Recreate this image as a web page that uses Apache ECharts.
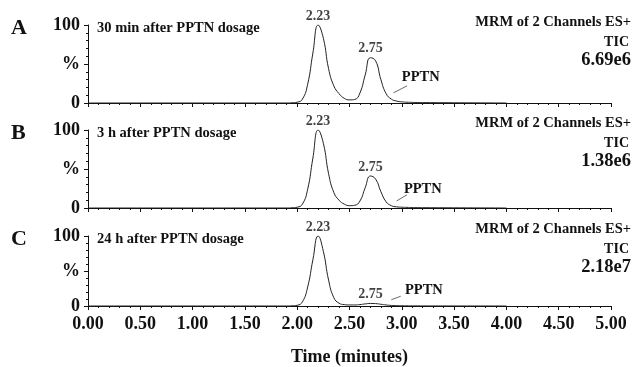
<!DOCTYPE html>
<html>
<head>
<meta charset="utf-8">
<script src="https://cdn.jsdelivr.net/npm/echarts@6/dist/echarts.min.js"></script>
<style>
  html, body { margin: 0; padding: 0; background: #fff; }
  #chart { width: 633px; height: 367px; }
</style>
</head>
<body>
<div id="chart"></div>
<script>
// retention time (min) and relative abundance (%)
const timeMin = [0, 1.9, 1.95, 2.0, 2.05, 2.1, 2.15, 2.2, 2.25, 2.3, 2.35, 2.4, 2.45, 2.5, 2.55, 2.6, 2.65, 2.7, 2.75, 2.8, 2.85, 2.9, 2.95, 3.0, 3.05, 3.1, 3.15, 3.2, 4.0];
const pctA = [0, 0, 0.3, 1, 5, 24, 64, 100, 83, 44, 22, 12, 6, 4, 4.5, 13, 36, 58, 54, 30, 12, 5, 2.5, 1.5, 1, 0.8, 0.6, 0.5, 0];
const pctB = [0, 0, 0.3, 1, 5, 24, 64, 100, 83, 44, 20, 10, 5, 3, 3.5, 9, 26, 41, 37, 21, 8, 3, 1.5, 1, 0.8, 0.6, 0.5, 0.4, 0];
const pctC = [0, 0, 0.3, 1, 6, 27, 66, 100, 78, 37, 12, 4, 2, 1.5, 1.5, 2, 3, 3.6, 3.4, 2.5, 1.5, 0.8, 0.5, 0.4, 0.3, 0.2, 0.2, 0.1, 0];

const peakIndex = [7, 17];
const peakText = ['2.23', '2.75'];

const panelLetters = ['A', 'B', 'C'];
const panelNotes = ['30 min after PPTN dosage', '3 h after PPTN dosage', '24 h after PPTN dosage'];
const ticIntensity = ['6.69e6', '1.38e6', '2.18e7'];

const serif = "'Liberation Serif', 'Times New Roman', serif";
const ink = '#111';

const panels = [pctA, pctB, pctC];
const gridTops = [25, 130, 236];
const gridHeights = [78, 78, 77];
// PPTN leader line and text anchor per panel, in data units
const pptnLine = [
  [[2.92, 13], [3.05, 22]],
  [[2.95, 9], [3.05, 17]],
  [[2.9, 9], [2.99, 14]]
];
const pptnText = [[3.0, 33], [3.02, 24], [3.03, 22]];

const grid = [], xAxis = [], yAxis = [], series = [], graphic = [];

panels.forEach((vals, i) => {
  grid.push({ left: 88, right: 22, top: gridTops[i], height: gridHeights[i] });
  const last = i === panels.length - 1;
  xAxis.push({
    type: 'value', gridIndex: i, min: 0, max: 5, interval: 0.5,
    axisLine: { onZero: false, lineStyle: { color: ink, width: 1 } },
    axisTick: { show: true, length: 4, lineStyle: { color: ink } },
    minorTick: { show: true, splitNumber: 5, length: 2, lineStyle: { color: ink } },
    splitLine: { show: false },
    axisLabel: {
      show: last, margin: 9, color: ink, fontFamily: serif, fontWeight: 'bold', fontSize: 18,
      formatter: v => v.toFixed(2)
    },
    name: last ? 'Time (minutes)' : '',
    nameLocation: 'middle', nameGap: 42,
    nameTextStyle: { color: ink, fontFamily: serif, fontWeight: 'bold', fontSize: 18 }
  });
  yAxis.push({
    type: 'value', gridIndex: i, min: 0, max: 100, interval: 50,
    axisLine: { show: true, lineStyle: { color: ink, width: 1 } },
    axisTick: { show: true, length: 4, lineStyle: { color: ink } },
    minorTick: { show: true, splitNumber: 5, length: 2, lineStyle: { color: ink } },
    splitLine: { show: false },
    axisLabel: {
      margin: 8, color: ink, fontFamily: serif, fontWeight: 'bold', fontSize: 18,
      formatter: v => (v === 50 ? '%' : String(v))
    }
  });
  series.push({
    type: 'line', xAxisIndex: i, yAxisIndex: i,
    data: timeMin.map((t, k) => [t, vals[k]]),
    smooth: 0.5, showSymbol: false, silent: true,
    lineStyle: { color: '#222', width: 1 },
    markLine: {
      symbol: 'none', silent: true, label: { show: false },
      lineStyle: { color: '#444', width: 0.8, type: 'solid' },
      data: [[{ coord: pptnLine[i][0] }, { coord: pptnLine[i][1] }]]
    },
    markPoint: {
      symbol: 'circle', symbolSize: 0, silent: true,
      label: {
        show: true, position: 'right', distance: 0, formatter: 'PPTN',
        color: ink, fontFamily: serif, fontWeight: 'bold', fontSize: 14.5
      },
      data: [{ coord: pptnText[i] }]
    }
  });
  series.push({
    type: 'scatter', xAxisIndex: i, yAxisIndex: i, symbolSize: 0, silent: true,
    data: peakIndex.map((k, j) => [timeMin[k], vals[k], peakText[j]]),
    label: {
      show: true, position: 'top', distance: 2,
      color: ink, fontFamily: serif, fontWeight: 'bold', fontSize: 14,
      formatter: p => p.value[2]
    }
  });

  const top = gridTops[i];
  const shift = i ? -4 : 0;
  graphic.push(
    { type: 'text', style: { x: 11, y: top + 3, text: panelLetters[i], font: `bold 22px ${serif}`, fill: ink, verticalAlign: 'middle' } },
    { type: 'text', style: { x: 97, y: top + 3, text: panelNotes[i], font: `bold 14.5px ${serif}`, fill: ink, verticalAlign: 'middle' } },
    { type: 'text', style: { x: 631, y: top - 3 + shift, text: 'MRM of 2 Channels ES+', font: `bold 14.5px ${serif}`, fill: ink, align: 'right', verticalAlign: 'middle' } },
    { type: 'text', style: { x: 629, y: top + 17 + shift, text: 'TIC', font: `bold 14px ${serif}`, fill: ink, align: 'right', verticalAlign: 'middle' } },
    { type: 'text', style: { x: 631, y: top + 35 + shift, text: ticIntensity[i], font: `bold 18.5px ${serif}`, fill: ink, align: 'right', verticalAlign: 'middle' } }
  );
});

const chart = echarts.init(document.getElementById('chart'), null, { renderer: 'canvas' });
chart.setOption({
  backgroundColor: '#fff',
  animation: false,
  grid, xAxis, yAxis, series, graphic
});
</script>
</body>
</html>
